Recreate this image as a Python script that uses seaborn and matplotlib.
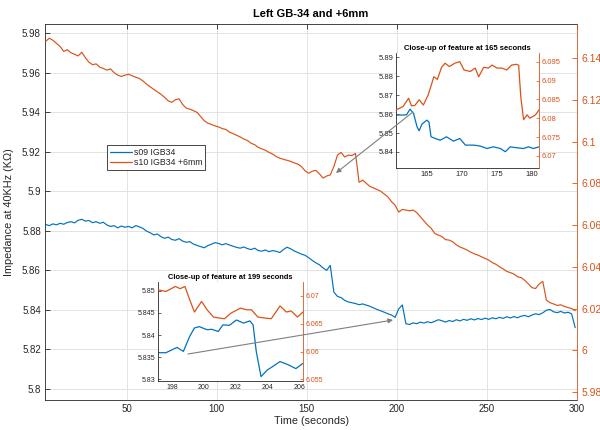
import numpy as np
import pandas as pd
import matplotlib
matplotlib.use("Agg")
import matplotlib.pyplot as plt
import seaborn as sns
from matplotlib.ticker import FuncFormatter, MultipleLocator
from matplotlib.lines import Line2D

sns.set_style("white")
plt.rcParams['font.family'] = ['Liberation Sans', 'DejaVu Sans']

BLUE = "#0072BD"
ORANGE = "#D95319"
DARK = "#262626"

# ---------------- main series (sampled every 2 s from 5 s) ----------------
time_main = np.arange(5, 300, 2)
s09_main = [
    5.8832, 5.8826, 5.8835, 5.8830, 5.8838, 5.8833, 5.8842, 5.8846, 5.8840, 5.8853,
    5.8858, 5.8849, 5.8852, 5.8841, 5.8846, 5.8838, 5.8843, 5.8829, 5.8822, 5.8826,
    5.8815, 5.8824, 5.8818, 5.8822, 5.8815, 5.8826, 5.8820, 5.8812, 5.8798, 5.8790,
    5.8779, 5.8784, 5.8770, 5.8762, 5.8768, 5.8756, 5.8752, 5.8760, 5.8748, 5.8742,
    5.8745, 5.8733, 5.8726, 5.8720, 5.8714, 5.8725, 5.8732, 5.8740, 5.8736, 5.8729,
    5.8735, 5.8728, 5.8722, 5.8716, 5.8712, 5.8718, 5.8710, 5.8705, 5.8712, 5.8700,
    5.8697, 5.8703, 5.8694, 5.8700, 5.8696, 5.8690, 5.8705, 5.8717, 5.8709, 5.8698,
    5.8690, 5.8682, 5.8676, 5.8664, 5.8650, 5.8638, 5.8628, 5.8612, 5.8600, 5.8625,
    5.8490, 5.8468, 5.8462, 5.8448, 5.8440, 5.8436, 5.8432, 5.8426, 5.8430, 5.8424,
    5.8418, 5.8410, 5.8402, 5.8395, 5.8388, 5.8380, 5.8374, 5.8362, 5.8405, 5.8425,
    5.8330, 5.8326, 5.8334, 5.8330, 5.8338, 5.8333, 5.8340, 5.8335, 5.8342, 5.8350,
    5.8345, 5.8338, 5.8346, 5.8341, 5.8350, 5.8344, 5.8352, 5.8347, 5.8355, 5.8349,
    5.8356, 5.8351, 5.8358, 5.8352, 5.8360, 5.8355, 5.8362, 5.8357, 5.8365, 5.8359,
    5.8366, 5.8360, 5.8368, 5.8372, 5.8365, 5.8374, 5.8380, 5.8376, 5.8385, 5.8398,
    5.8402, 5.8390, 5.8386, 5.8392, 5.8384, 5.8388, 5.8380, 5.8310,
]
s10_main = [
    6.1480, 6.1495, 6.1485, 6.1470, 6.1455, 6.1432, 6.1440, 6.1425, 6.1418, 6.1410,
    6.1428, 6.1402, 6.1380, 6.1368, 6.1372, 6.1356, 6.1350, 6.1342, 6.1348, 6.1330,
    6.1318, 6.1312, 6.1318, 6.1322, 6.1315, 6.1308, 6.1302, 6.1290, 6.1275, 6.1262,
    6.1250, 6.1238, 6.1226, 6.1212, 6.1195, 6.1188, 6.1200, 6.1205, 6.1178, 6.1160,
    6.1155, 6.1148, 6.1140, 6.1120, 6.1100, 6.1088, 6.1082, 6.1075, 6.1070, 6.1062,
    6.1058, 6.1045, 6.1038, 6.1030, 6.1022, 6.1012, 6.1005, 6.0992, 6.0985, 6.0972,
    6.0965, 6.0958, 6.0948, 6.0940, 6.0928, 6.0920, 6.0915, 6.0910, 6.0905, 6.0898,
    6.0892, 6.0880, 6.0860, 6.0848, 6.0858, 6.0862, 6.0845, 6.0825, 6.0835, 6.0840,
    6.0880, 6.0935, 6.0948, 6.0926, 6.0935, 6.0933, 6.0943, 6.0805, 6.0815, 6.0800,
    6.0785, 6.0778, 6.0770, 6.0762, 6.0748, 6.0735, 6.0712, 6.0695, 6.0662, 6.0675,
    6.0672, 6.0668, 6.0672, 6.0660, 6.0640, 6.0620, 6.0600, 6.0585, 6.0560, 6.0552,
    6.0545, 6.0530, 6.0528, 6.0520, 6.0505, 6.0495, 6.0488, 6.0480, 6.0470, 6.0462,
    6.0456, 6.0448, 6.0440, 6.0432, 6.0420, 6.0412, 6.0400, 6.0390, 6.0378, 6.0372,
    6.0365, 6.0352, 6.0348, 6.0335, 6.0318, 6.0300, 6.0296, 6.0318, 6.0330, 6.0240,
    6.0228, 6.0222, 6.0215, 6.0218, 6.0210, 6.0205, 6.0200, 6.0190,
]

# ---------------- close-up at 165 s ----------------
z165_t_s09 = [160.6, 161.6, 162.1, 162.6, 163.1, 163.6, 163.9, 164.3, 165.0, 165.3,
              165.6, 166.2, 166.9, 167.8, 168.8, 169.7, 170.5, 171.7, 172.6, 173.6,
              174.5, 175.5, 176.2, 176.9, 177.8, 178.8, 179.5, 180.2, 181.0]
z165_s09 = [5.8595, 5.8595, 5.8596, 5.8626, 5.8604, 5.8533, 5.8512, 5.8547, 5.8568, 5.8558,
            5.8480, 5.8471, 5.8462, 5.8480, 5.8457, 5.8471, 5.8436, 5.8436, 5.8431, 5.8418,
            5.8427, 5.8418, 5.8401, 5.8427, 5.8422, 5.8418, 5.8427, 5.8418, 5.8427]
z165_t_s10 = [160.6, 161.6, 162.4, 162.8, 163.3, 163.9, 164.5, 165.2, 166.0, 166.5,
              167.1, 167.6, 168.2, 169.0, 169.7, 170.3, 171.2, 171.9, 172.4, 173.1,
              173.8, 174.3, 175.0, 175.7, 176.4, 177.1, 177.8, 178.1, 178.4, 178.8,
              179.3, 179.7, 180.5, 181.0]
z165_s10 = [6.0822, 6.0831, 6.0853, 6.0833, 6.0834, 6.0849, 6.0835, 6.0862, 6.0910, 6.0903,
            6.0935, 6.0946, 6.0937, 6.0946, 6.0950, 6.0928, 6.0924, 6.0933, 6.0910, 6.0935,
            6.0933, 6.0941, 6.0933, 6.0933, 6.0928, 6.0941, 6.0943, 6.0940, 6.0857, 6.0796,
            6.0809, 6.0800, 6.0809, 6.0822]

# ---------------- close-up at 199 s ----------------
z199_t_s09 = [197.1, 197.6, 198.3, 198.7, 199.1, 199.4, 199.7, 200.2, 200.5, 200.9,
              201.2, 201.6, 202.05, 202.5, 202.9, 203.1, 203.3, 203.6, 204.0, 204.35,
              204.8, 205.3, 205.8, 206.25]
z199_s09 = [5.8360, 5.8360, 5.8372, 5.8363, 5.8397, 5.8416, 5.8419, 5.8412, 5.8413, 5.8408,
            5.8423, 5.8422, 5.8434, 5.8427, 5.8432, 5.8423, 5.8363, 5.8306, 5.8321, 5.8329,
            5.8340, 5.8333, 5.8324, 5.8336]
z199_t_s10 = [197.1, 197.6, 198.2, 198.5, 198.8, 199.1, 199.4, 199.85, 200.2, 200.6,
              201.0, 201.3, 201.7, 202.3, 202.7, 203.0, 203.4, 203.9, 204.25, 204.8,
              205.2, 205.5, 205.9, 206.25]
z199_s10 = [6.0711, 6.0708, 6.0717, 6.0713, 6.0717, 6.0693, 6.0671, 6.0690, 6.0675, 6.0662,
            6.0660, 6.0659, 6.0669, 6.0678, 6.0675, 6.0675, 6.0662, 6.0660, 6.0659, 6.0682,
            6.0671, 6.0673, 6.0662, 6.0671]

legend_labels = ["s09 IGB34", "s10 IGB34 +6mm"]
title_main = "Left GB-34 and +6mm"
title_z165 = "Close-up of feature at 165 seconds"
title_z199 = "Close-up of feature at 199 seconds"

fmt = FuncFormatter(lambda v, p: f"{v:g}")

W, H = 600, 430
fig = plt.figure(figsize=(6, 4.3), dpi=100)


def rect(l, t, r, b):
    return [l / W, 1 - b / H, (r - l) / W, (b - t) / H]


# ---------------- main axes ----------------
ax = fig.add_axes(rect(45, 24, 577, 400))
ax2 = ax.twinx()
sns.lineplot(x=time_main, y=s09_main, ax=ax, color=BLUE, linewidth=0.85)
sns.lineplot(x=time_main, y=s10_main, ax=ax2, color=ORANGE, linewidth=0.85)

ax.set_xlim(4.6, 300)
ax.set_ylim(5.7944, 5.9846)
ax2.set_ylim(5.9762, 6.1563)
ax.xaxis.set_major_locator(MultipleLocator(50))
ax.yaxis.set_major_locator(MultipleLocator(0.02))
ax2.yaxis.set_major_locator(MultipleLocator(0.02))
ax.yaxis.set_major_formatter(fmt)
ax2.yaxis.set_major_formatter(fmt)
ax.grid(True, color="#E3E3E3", linewidth=0.7)
ax.set_axisbelow(True)

ax.tick_params(axis="both", direction="in", length=3.5, width=0.6, labelsize=7,
               colors=DARK, top=True, right=False, pad=3)
ax2.tick_params(axis="y", direction="in", length=3.5, width=0.6, labelsize=7.5,
                colors=ORANGE, pad=3)
for s in ["left", "bottom", "top"]:
    ax.spines[s].set_color(DARK)
    ax.spines[s].set_linewidth(0.6)
ax.spines["right"].set_visible(False)
for s in ["left", "bottom", "top"]:
    ax2.spines[s].set_visible(False)
ax2.spines["right"].set_color(ORANGE)
ax2.spines["right"].set_linewidth(0.6)

ax.set_title(title_main, fontsize=8, fontweight="bold", color="black", pad=5)
ax.set_xlabel("Time (seconds)", fontsize=7.8, color=DARK)
ax.set_ylabel("Impedance at 40KHz (KΩ)", fontsize=7.8, color=DARK)
ax.xaxis.set_label_coords(0.5, -0.042)
ax.yaxis.set_label_coords(-0.058, 0.5)
ax2.set_ylabel("")

handles = [Line2D([0], [0], color=BLUE, lw=0.9), Line2D([0], [0], color=ORANGE, lw=0.9)]
fig.legend(handles, legend_labels, loc="upper left",
           bbox_to_anchor=(107 / W, 1 - 145 / H), frameon=True, fancybox=False,
           edgecolor=DARK, framealpha=1, fontsize=6.3, borderpad=0.3,
           handlelength=2.5, handletextpad=0.3, labelspacing=0.15, borderaxespad=0)
fig.legends[0].get_frame().set_linewidth(0.6)


# ---------------- insets ----------------
def make_inset(r, ts09, ys09, ts10, ys10, xlim, yl, yr, xstep, ylstep, yrstep, title, fs, tfs):
    a = fig.add_axes(r)
    a.set_facecolor("white")
    b = a.twinx()
    sns.lineplot(x=ts09, y=ys09, ax=a, color=BLUE, linewidth=0.9)
    sns.lineplot(x=ts10, y=ys10, ax=b, color=ORANGE, linewidth=0.9)
    a.set_xlim(*xlim)
    a.set_ylim(*yl)
    b.set_ylim(*yr)
    a.xaxis.set_major_locator(MultipleLocator(xstep))
    a.yaxis.set_major_locator(MultipleLocator(ylstep))
    b.yaxis.set_major_locator(MultipleLocator(yrstep))
    a.yaxis.set_major_formatter(fmt)
    b.yaxis.set_major_formatter(fmt)
    a.tick_params(axis="both", direction="in", length=2.5, width=0.5, labelsize=fs,
                  colors=DARK, right=False, top=False, pad=2)
    b.tick_params(axis="y", direction="in", length=2.5, width=0.5, labelsize=fs,
                  colors=ORANGE, pad=2)
    a.spines["top"].set_visible(False)
    a.spines["right"].set_visible(False)
    for s in ["left", "bottom"]:
        a.spines[s].set_color(DARK)
        a.spines[s].set_linewidth(0.6)
    for s in ["left", "bottom", "top"]:
        b.spines[s].set_visible(False)
    b.spines["right"].set_color(ORANGE)
    b.spines["right"].set_linewidth(0.6)
    a.set_title(title, fontsize=tfs, fontweight="bold", color="black", pad=2)
    a.set_xlabel("")
    a.set_ylabel("")
    b.set_ylabel("")
    return a


make_inset(rect(396, 53, 539, 168), z165_t_s09, z165_s09, z165_t_s10, z165_s10,
           (160.6, 181.0), (5.8315, 5.8923), (6.0668, 6.0973), 5, 0.01, 0.005,
           title_z165, 5.5, 5.5)
make_inset(rect(158, 282, 303, 381), z199_t_s09, z199_s09, z199_t_s10, z199_s10,
           (197.1, 206.25), (5.8296, 5.8520), (6.0547, 6.0725), 2, 0.005, 0.005,
           title_z199, 5.0, 5.4)

# ---------------- arrows (figure annotations) ----------------
arrow_kw = dict(arrowstyle="-|>", color="#7F7F7F", lw=0.8, mutation_scale=7,
                shrinkA=0, shrinkB=0)
fig.add_artist(matplotlib.patches.FancyArrowPatch(
    (413 / W, 1 - 112 / H), (336 / W, 1 - 173 / H), transform=fig.transFigure, **arrow_kw))
fig.add_artist(matplotlib.patches.FancyArrowPatch(
    (188 / W, 1 - 354 / H), (393 / W, 1 - 320 / H), transform=fig.transFigure, **arrow_kw))

fig.savefig("out.png", dpi=100)
